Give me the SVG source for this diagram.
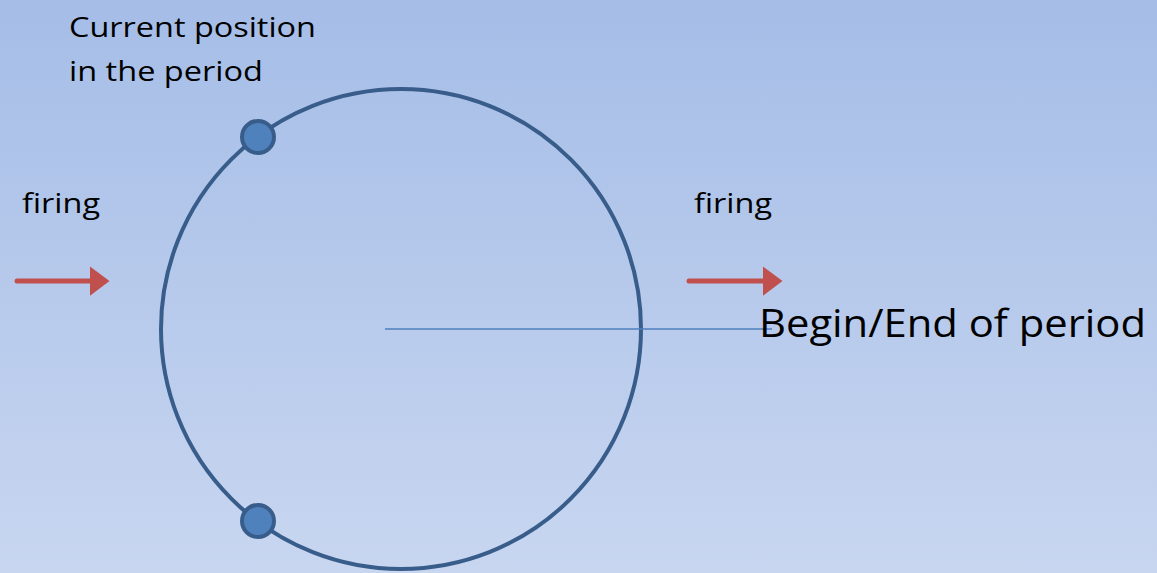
<svg xmlns="http://www.w3.org/2000/svg" width="1157" height="573" viewBox="0 0 1157 573">
<defs>
<linearGradient id="bg" x1="0" y1="0" x2="0" y2="1">
<stop offset="0" stop-color="#a5bde7"/>
<stop offset="1" stop-color="#c8d6f0"/>
</linearGradient>
<marker id="ah" markerWidth="6" markerHeight="6" refX="1.5" refY="3" orient="auto" markerUnits="strokeWidth">
<path d="M0,0 L4,3 L0,6 Z" fill="#c0504d"/>
</marker>
<style>
.t{font-family:"Open Sans","Liberation Sans",sans-serif;fill:#000}
.dot{fill:#4f81bd;stroke:#385d8a;stroke-width:4}
.arr{stroke:#c0504d;stroke-width:5;stroke-linecap:round;fill:none}
</style>
</defs>
<rect width="1157" height="573" fill="url(#bg)"/>
<g id="period">
<circle cx="401" cy="329" r="240" fill="none" stroke="#385d8a" stroke-width="4"/>
</g>
<g id="connectors">
<line x1="385" y1="329" x2="772" y2="329" stroke="#4f81bd" stroke-width="1.5"/>
<line class="arr" x1="17" y1="281" x2="97" y2="281" marker-end="url(#ah)"/>
<line class="arr" x1="689" y1="281" x2="770" y2="281" marker-end="url(#ah)"/>
</g>
<g id="dot-top"><circle class="dot" cx="258" cy="137" r="16"/></g>
<g id="dot-bottom"><circle class="dot" cx="258" cy="521" r="16"/></g>
<g id="label-current">
<text class="t" x="69" y="37" font-size="28" textLength="247" lengthAdjust="spacingAndGlyphs">Current position</text>
<text class="t" x="69" y="81" font-size="28" textLength="194" lengthAdjust="spacingAndGlyphs">in the period</text>
</g>
<g id="label-firing-left"><text class="t" x="22" y="213" font-size="28" textLength="78" lengthAdjust="spacingAndGlyphs">firing</text></g>
<g id="label-firing-right"><text class="t" x="694" y="213" font-size="28" textLength="78" lengthAdjust="spacingAndGlyphs">firing</text></g>
<g id="label-begin"><text class="t" x="759" y="337" font-size="39" textLength="387" lengthAdjust="spacingAndGlyphs">Begin/End of period</text></g>
</svg>
